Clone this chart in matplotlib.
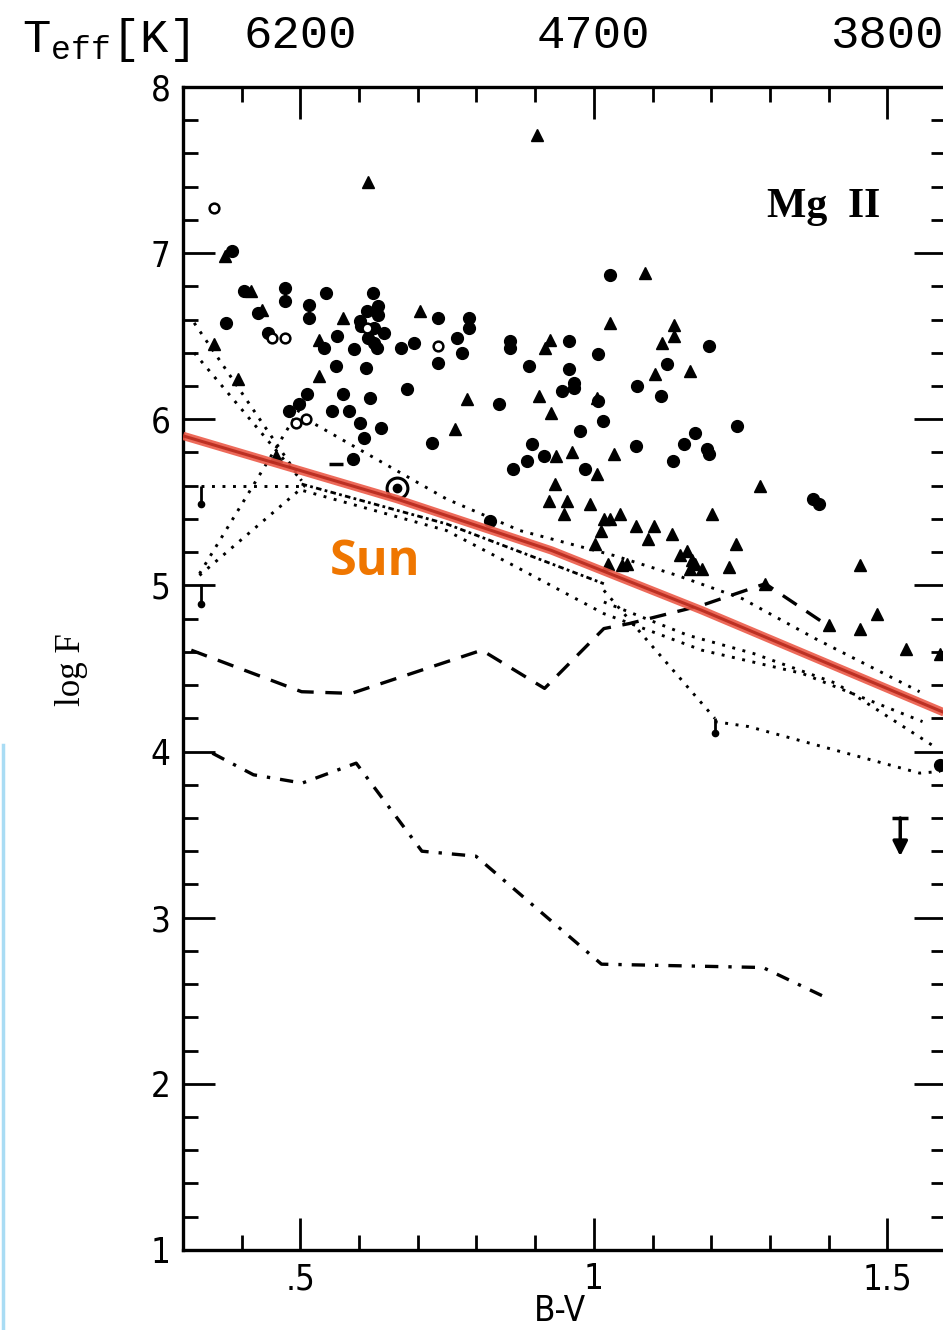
import numpy as np
import matplotlib.pyplot as plt
from matplotlib.lines import Line2D
from matplotlib import font_manager

plt.rcParams['mathtext.fontset'] = 'custom'
plt.rcParams['mathtext.rm'] = 'Liberation Mono'

# Mg II surface flux against colour index
circ_bv = [0.384, 0.404, 0.473, 0.473, 0.544, 0.623, 0.374, 0.514, 0.514, 0.613,
           0.633, 0.633, 0.601, 0.604, 0.625, 0.643, 0.616, 0.626, 0.631, 0.735,
           0.445, 0.541, 0.563, 0.592, 0.672, 0.693, 0.735, 0.561, 0.611, 0.681,
           0.512, 0.572, 0.619, 0.838, 0.889, 0.857, 0.857, 0.498, 0.481, 0.553,
           0.582, 0.601, 0.609, 0.638, 0.724, 0.894, 0.886, 0.863, 0.915, 0.590,
           1.027, 0.788, 0.788, 0.766, 0.776, 0.957, 1.007, 0.957, 0.966, 0.966,
           0.945, 1.125, 1.073, 1.114, 1.196, 1.007, 1.015, 0.976, 1.244, 0.985,
           1.072, 1.135, 1.154, 1.172, 1.193, 1.196, 1.374, 1.384, 0.823, 1.590,
           0.427]
circ_logf = [7.01, 6.77, 6.79, 6.71, 6.76, 6.76, 6.58, 6.69, 6.61, 6.65,
             6.68, 6.63, 6.59, 6.56, 6.55, 6.52, 6.49, 6.46, 6.43, 6.61,
             6.52, 6.43, 6.50, 6.42, 6.43, 6.46, 6.34, 6.32, 6.31, 6.18,
             6.15, 6.15, 6.13, 6.09, 6.32, 6.47, 6.43, 6.09, 6.05, 6.05,
             6.05, 5.98, 5.89, 5.95, 5.86, 5.85, 5.75, 5.70, 5.78, 5.76,
             6.87, 6.61, 6.55, 6.49, 6.40, 6.47, 6.39, 6.30, 6.22, 6.19,
             6.17, 6.33, 6.20, 6.14, 6.44, 6.11, 5.99, 5.93, 5.96, 5.70,
             5.84, 5.75, 5.85, 5.92, 5.82, 5.79, 5.52, 5.49, 5.39, 3.92,
             6.64]

tri_bv = [0.616, 0.903, 0.372, 0.416, 0.435, 0.573, 0.703, 0.353, 0.532, 0.394,
          0.532, 0.783, 0.906, 0.916, 0.925, 0.763, 1.087, 1.027, 1.137, 1.137,
          1.116, 1.104, 1.164, 1.005, 0.927, 0.935, 0.962, 1.034, 1.005, 0.933,
          0.923, 0.954, 0.949, 0.993, 1.044, 1.017, 1.027, 1.012, 1.072, 1.102,
          1.092, 1.133, 1.002, 1.147, 1.159, 1.167, 1.164, 1.056, 1.048, 1.024,
          1.283, 1.201, 1.242, 1.230, 1.172, 1.184, 1.454, 1.292, 1.483, 1.401,
          1.454, 1.532, 1.590, 0.459]
tri_logf = [7.43, 7.71, 6.98, 6.77, 6.66, 6.61, 6.65, 6.45, 6.48, 6.24,
            6.26, 6.12, 6.14, 6.43, 6.48, 5.94, 6.88, 6.58, 6.57, 6.50,
            6.46, 6.27, 6.29, 6.13, 6.04, 5.78, 5.80, 5.79, 5.67, 5.61,
            5.51, 5.51, 5.43, 5.49, 5.43, 5.40, 5.40, 5.33, 5.36, 5.36,
            5.28, 5.31, 5.25, 5.18, 5.21, 5.15, 5.10, 5.13, 5.12, 5.13,
            5.60, 5.43, 5.25, 5.11, 5.13, 5.10, 5.12, 5.01, 4.83, 4.76,
            4.74, 4.62, 4.59, 5.78]

open_bv = [0.353, 0.452, 0.473, 0.735, 0.493, 0.510, 0.613]
open_logf = [7.27, 6.49, 6.49, 6.44, 5.98, 6.00, 6.55]

sun_bv, sun_logf = 0.664, 5.584

# lower-limit bars (top, bottom) and the single upper limit
bar_bv = [0.331, 0.331, 1.206]
bar_top = [5.60, 5.01, 4.20]
bar_bot = [5.49, 4.89, 4.11]
ul_bv, ul_top, ul_tip = 1.522, 3.60, 3.37

# dotted connections between stars
dotted_tracks = [
    ([0.319, 0.502], [6.58, 5.63]),
    ([0.319, 0.502], [6.40, 5.63]),
    ([0.331, 0.502], [5.60, 5.60]),
    ([0.328, 0.514], [5.07, 6.15]),
    ([0.328, 0.507], [5.06, 5.60]),
    ([0.510, 0.749, 0.874, 1.034, 1.142, 1.253, 1.377, 1.555],
     [6.00, 5.52, 5.33, 5.18, 5.06, 4.92, 4.68, 4.36]),
    ([0.505, 0.749, 0.863, 1.017, 1.184, 1.355, 1.560],
     [5.57, 5.33, 5.12, 4.83, 4.61, 4.47, 4.18]),
    ([1.017, 1.206], [4.97, 4.20]),
    ([1.206, 1.264, 1.555, 1.590], [4.18, 4.15, 3.87, 3.88]),
    ([1.017, 1.160, 1.272, 1.413, 1.580], [4.90, 4.70, 4.59, 4.41, 4.03]),
]
dense_bv = [0.502, 0.749, 1.017]
dense_logf = [5.61, 5.37, 5.01]

dash_bv = [0.314, 0.502, 0.587, 0.809, 0.916, 1.017, 1.060, 1.184, 1.292, 1.406]
dash_logf = [4.61, 4.36, 4.35, 4.61, 4.38, 4.74, 4.77, 4.88, 5.01, 4.74]

dashdot_bv = [0.350, 0.420, 0.503, 0.595, 0.707, 0.799, 1.013, 1.288, 1.395]
dashdot_logf = [3.99, 3.86, 3.81, 3.93, 3.40, 3.37, 2.72, 2.70, 2.52]

sun_line_bv = [0.30, 0.664, 0.843, 0.928, 1.184, 1.60]
sun_line_logf = [5.90, 5.52, 5.31, 5.21, 4.85, 4.23]

teff_ticks = [0.5, 1.0, 1.5]
teff_labels = ['6200', '4700', '3800']

narrow = font_manager.FontProperties(family='DejaVu Sans', stretch='condensed',
                                     size=25)

fig = plt.figure(figsize=(9.43, 13.30), dpi=100)
ax = fig.add_axes([0.1941, 0.0602, 0.8091, 0.8744])
ax.set_xlim(0.3, 1.6)
ax.set_ylim(1, 8)

for tbv, tlf in dotted_tracks:
    ax.plot(tbv, tlf, color='k', lw=2.1, ls=(0, (1, 2.6)), zorder=2)
ax.plot(dense_bv, dense_logf, color='k', lw=2.0, ls=(0, (2, 1.2, 1, 1.2)), zorder=2)
ax.plot(dash_bv, dash_logf, color='k', lw=2.4, ls=(0, (5, 3.5)), zorder=2)
ax.plot(dashdot_bv, dashdot_logf, color='k', lw=2.4, ls=(0, (4, 3, 1, 3)), zorder=2)

ax.plot(circ_bv, circ_logf, 'o', ms=8.5, color='k', mec='k', zorder=3)
ax.plot(tri_bv, tri_logf, '^', ms=9, color='k', mec='k', zorder=3)
ax.plot(open_bv, open_logf, 'o', ms=7, mfc='white', mec='k', mew=1.8, zorder=3)
ax.plot(sun_bv, sun_logf, 'o', ms=15, mfc='white', mec='k', mew=2.2, zorder=3)
ax.plot(sun_bv, sun_logf, 'o', ms=6, color='k', zorder=4)

ax.vlines(bar_bv, bar_bot, bar_top, color='k', lw=2, zorder=3)
ax.plot(bar_bv, bar_bot, 'o', ms=4.5, color='k', zorder=3)
ax.plot(ul_bv, ul_top, '_', ms=12, mew=2.5, color='k', zorder=3)
ax.annotate('', xy=(ul_bv, ul_tip), xytext=(ul_bv, ul_top),
            arrowprops=dict(arrowstyle='-|>', lw=2.5, color='k',
                            mutation_scale=22, shrinkA=0, shrinkB=0))
ax.plot(0.561, 5.73, '_', ms=10, mew=2.5, color='k', zorder=3)

# model curve for the Sun
ax.plot(sun_line_bv, sun_line_logf, color='#ec5a48', lw=6, alpha=0.9,
        solid_capstyle='butt', zorder=5)
ax.plot(sun_line_bv, sun_line_logf, color='#b4261a', lw=2.2, alpha=0.85,
        solid_capstyle='butt', zorder=6)
ax.text(0.55, 5.06, 'Sun', color='#ef7600', fontsize=35, fontweight='bold',
        family='Open Sans', ha='left', va='baseline', zorder=7)

ax.text(1.295, 7.22, 'Mg  II', fontsize=30, fontweight='bold',
        family='Liberation Serif', ha='left', va='baseline')

ax.set_xticks([0.5, 1.0, 1.5], labels=['.5', '1', '1.5'])
ax.set_xticks(np.arange(0.4, 1.45, 0.1), minor=True)
ax.set_yticks(range(1, 9))
ax.set_yticks(np.arange(1, 8.01, 0.2), minor=True)
ax.tick_params(which='both', direction='in', top=True, right=True,
               width=2, color='k')
ax.tick_params(which='major', length=23, pad=9)
ax.tick_params(which='minor', length=11)
for lab in ax.get_xticklabels() + ax.get_yticklabels():
    lab.set_fontproperties(narrow)
for sp in ax.spines.values():
    sp.set_linewidth(2.4)

ax.set_xlabel('B-V', fontproperties=narrow)
ax.xaxis.set_label_coords(0.494, -0.038)
fig.text(72 / 943, 1 - 670 / 1330, 'log F', rotation=90, fontsize=25,
         family='Liberation Serif', ha='center', va='center')

top = ax.secondary_xaxis('top')
top.set_xticks(teff_ticks, labels=teff_labels)
top.tick_params(length=0, pad=21, labelsize=34)
for lab in top.get_xticklabels():
    lab.set_family('Liberation Mono')
top.spines['top'].set_visible(False)
fig.text(22 / 943, 1 - 52 / 1330, r'T$_{\mathrm{eff}}$[K]', fontsize=34,
         family='Liberation Mono', ha='left', va='baseline')

# light frame edge down the left side
fig.add_artist(Line2D([0.003, 0.003], [0.0, 1 - 745 / 1330],
                      transform=fig.transFigure, color='#a9dcf4', lw=2.5))

fig.savefig('out.png', dpi=100)
